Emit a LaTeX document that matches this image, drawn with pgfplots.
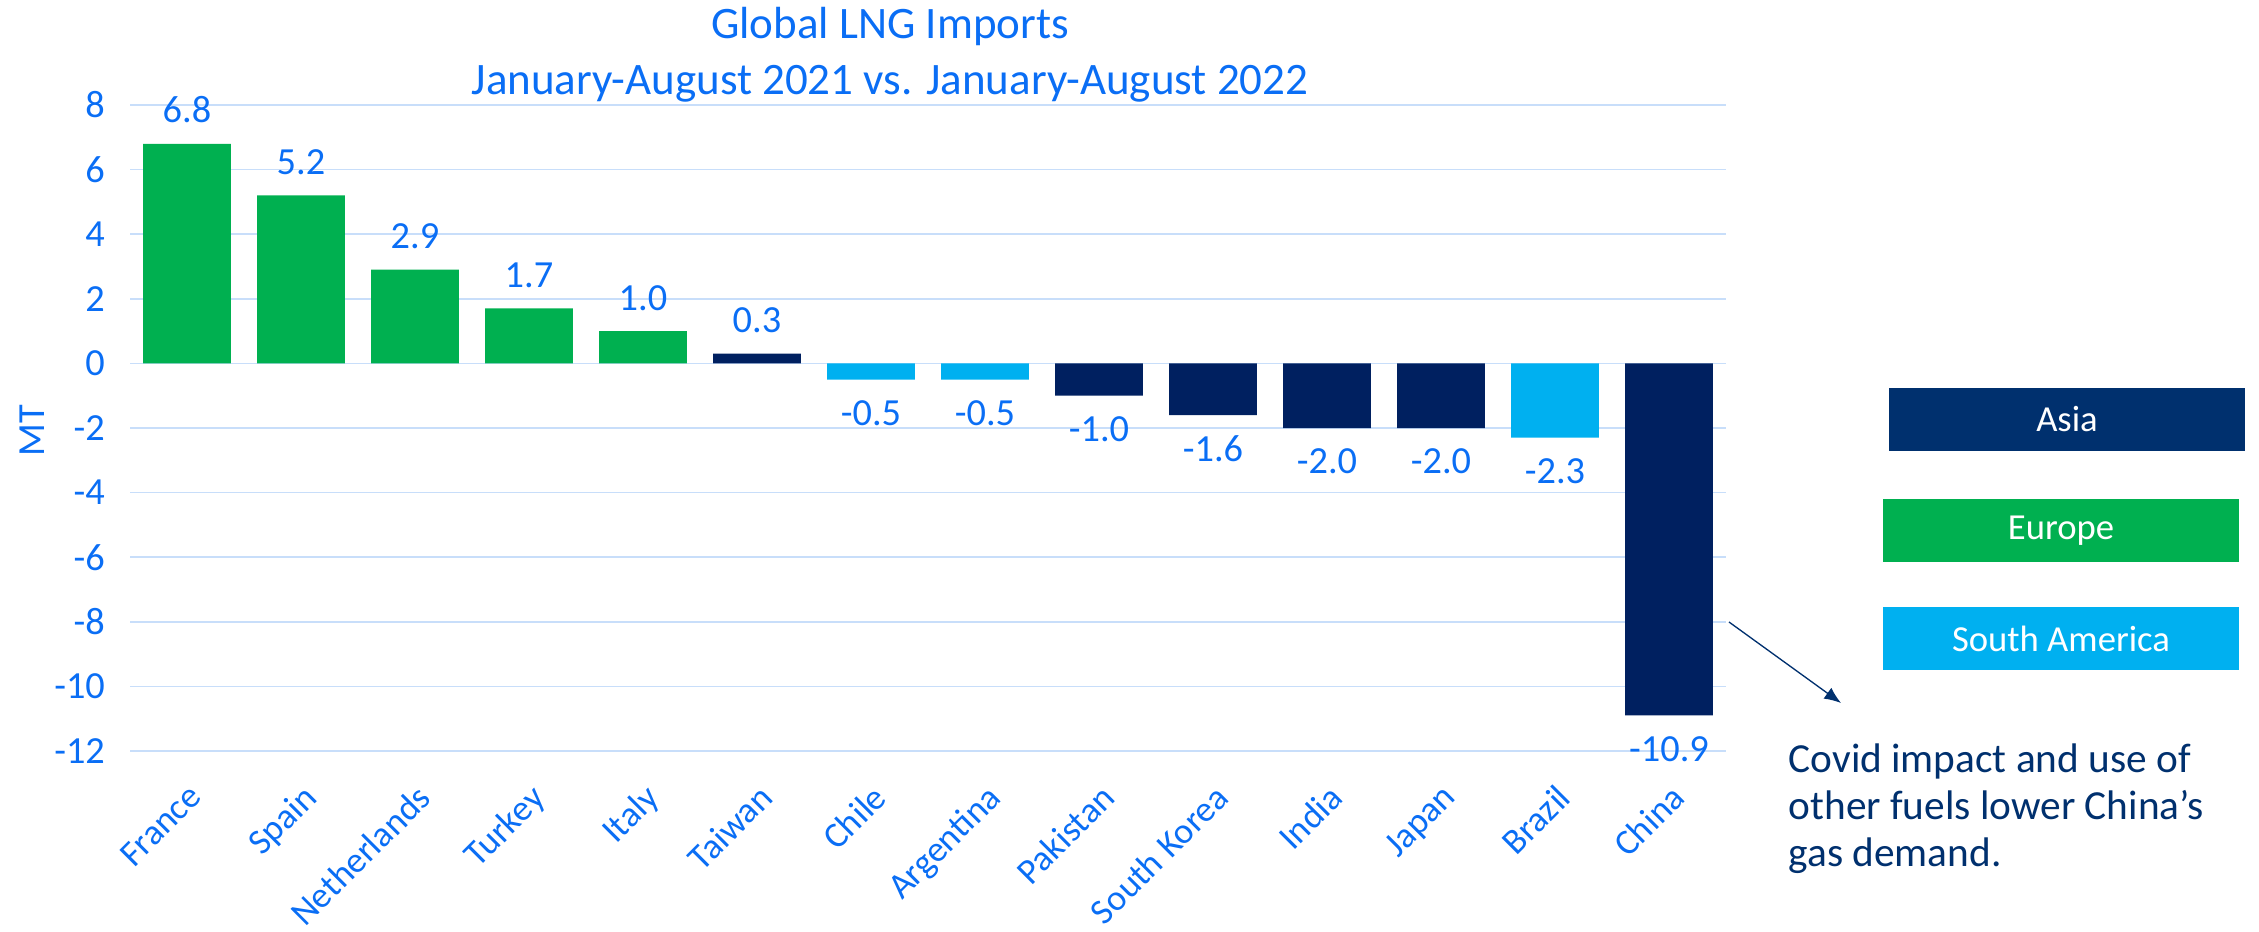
\documentclass[border=0pt]{standalone}
\usepackage{fontspec}
\setmainfont{Carlito}
\usepackage{pgfplots}
\pgfplotsset{compat=1.18}
\usetikzlibrary{arrows.meta}
\definecolor{txtblue}{RGB}{10,110,245}
\definecolor{gridblue}{RGB}{200,222,250}
\definecolor{eurgreen}{RGB}{0,176,80}
\definecolor{asianavy}{RGB}{0,32,96}
\definecolor{asiabox}{RGB}{0,48,110}
\definecolor{sablue}{RGB}{0,176,240}
\definecolor{annot}{RGB}{0,48,110}
\begin{document}
\begin{tikzpicture}[x=1pt,y=1pt]
\useasboundingbox (0,0) rectangle (677.7,279.3);
\begin{axis}[
  at={(39pt,54pt)}, anchor=south west,
  width=478.8pt, height=193.8pt, scale only axis,
  xmin=-0.5, xmax=13.5, ymin=-12, ymax=8,
  ytick={-12,-10,...,8},
  xtick={0,...,13},
  xticklabels={France,Spain,Netherlands,Turkey,Italy,Taiwan,Chile,Argentina,Pakistan,South Korea,India,Japan,Brazil,China},
  axis line style={draw=none},
  major tick length=0pt,
  ymajorgrids, grid style={gridblue, line width=0.45pt},
  tick label style={font=\fontsize{11.5}{13}\selectfont, text=txtblue},
  /pgf/number format/assume math mode=true,
  yticklabel style={xshift=-4pt},
  xticklabel style={anchor=north east, xshift=0pt, yshift=-4.5pt, rotate=45, font=\fontsize{10.8}{13}\selectfont},
  ybar, bar width=0.77,
  nodes near coords={\pgfmathprintnumber[fixed,fixed zerofill,precision=1,assume math mode=true]{\pgfplotspointmeta}},
  every node near coord/.append style={font=\fontsize{11.5}{13}\selectfont, text=txtblue, inner ysep=6pt},
  clip=false,
]
\addplot[fill=eurgreen, draw=none, bar shift=0pt] coordinates {(0,6.8) (1,5.2) (2,2.9) (3,1.7) (4,1.0)};
\addplot[fill=asianavy, draw=none, bar shift=0pt] coordinates {(5,0.3) (8,-1.0) (9,-1.6) (10,-2.0) (11,-2.0) (13,-10.9)};
\addplot[fill=sablue, draw=none, bar shift=0pt] coordinates {(6,-0.5) (7,-0.5) (12,-2.3)};
\end{axis}
\node[rotate=90, text=txtblue, font=\fontsize{11.5}{13}\selectfont] at (9.6,150) {MT};
\node[font=\fontsize{13.5}{16.8}\selectfont, text=txtblue, align=center] at (267,263) {Global LNG Imports\\January-August 2021 vs. January-August 2022};
\node[fill=asiabox, minimum width=106.8pt, minimum height=18.9pt, text=white, font=\fontsize{11}{13}\selectfont, inner sep=0pt] at (620.1,153.45) {Asia};
\node[fill=eurgreen, minimum width=106.8pt, minimum height=18.9pt, text=white, font=\fontsize{11}{13}\selectfont, inner sep=0pt] at (618.3,120.15) {Europe};
\node[fill=sablue, minimum width=106.8pt, minimum height=18.9pt, text=white, font=\fontsize{11}{13}\selectfont, inner sep=0pt] at (618.3,87.75) {South America};
\draw[-{Latex[length=5pt,width=4pt]}, annot, line width=0.4pt] (518.7,92.7) -- (552.3,68.4);
\node[anchor=north west, align=left, text=annot, font=\fontsize{12.4}{14.2}\selectfont, inner sep=0pt] at (536.4,56.5) {Covid impact and use of\\other fuels lower China’s\\gas demand.};
\end{tikzpicture}
\end{document}
